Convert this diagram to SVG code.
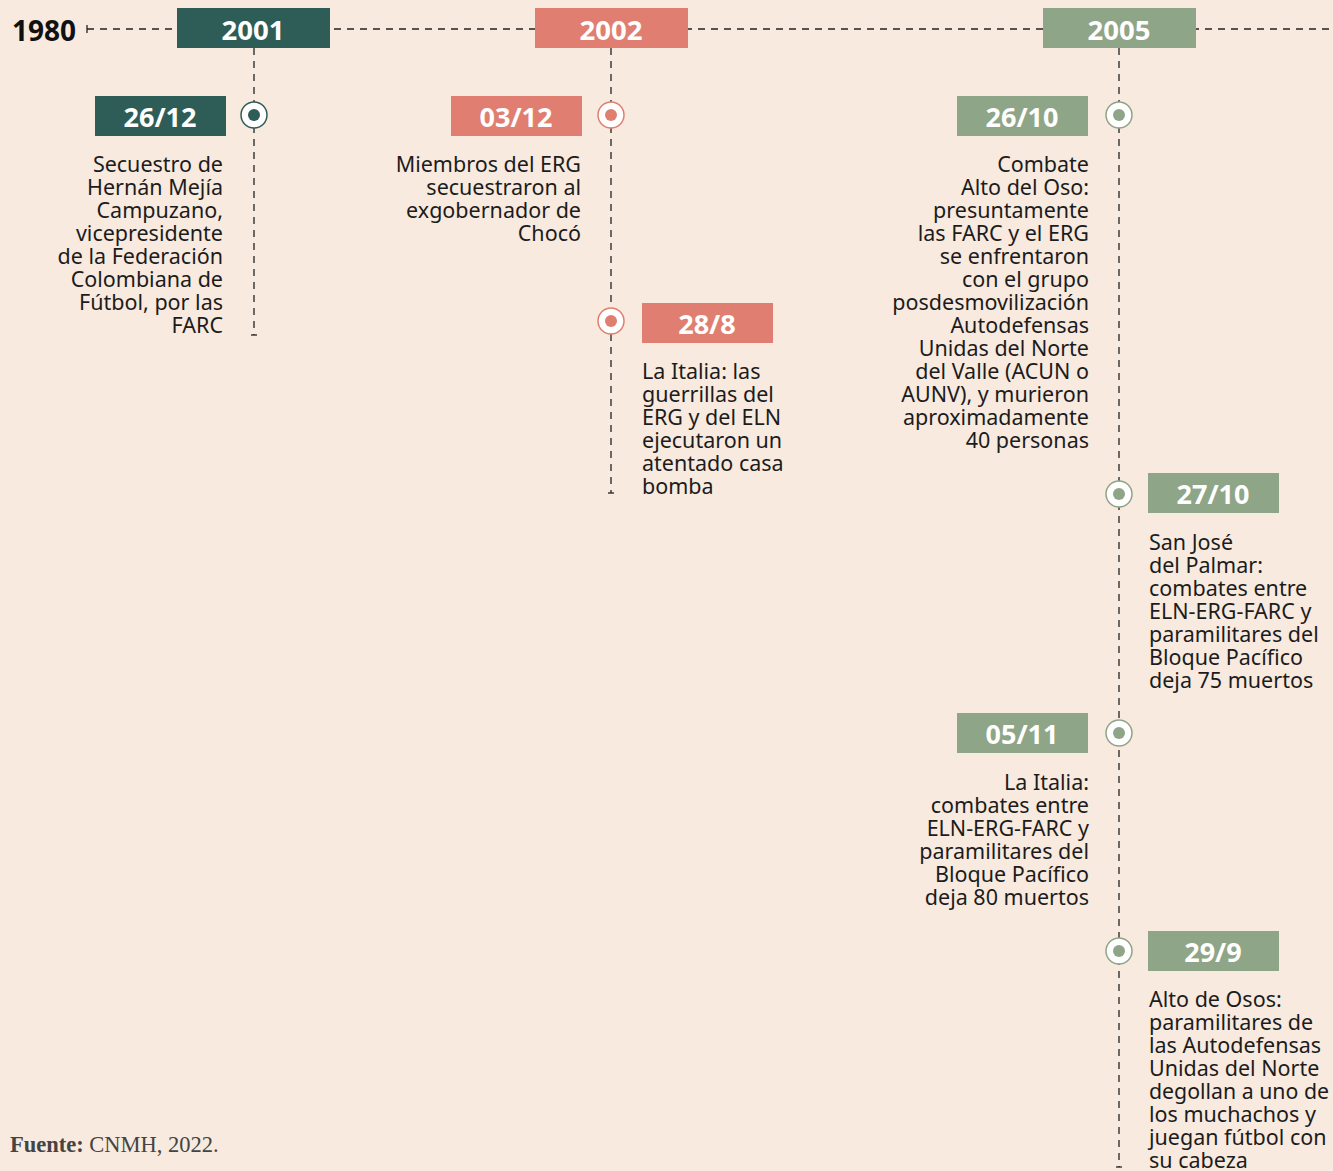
<svg xmlns="http://www.w3.org/2000/svg" width="1333" height="1171" viewBox="0 0 1333 1171">
  <style>
    .line { stroke: #222; stroke-width: 1.3; stroke-dasharray: 7 6; fill: none; }
    .tick { stroke: #222; stroke-width: 1.3; fill: none; }
    .year { font-family: "Noto Sans", "Open Sans", sans-serif; font-weight: 700; font-size: 27.5px; fill: #fff; text-anchor: middle; }
    .date { font-family: "Noto Sans", "Open Sans", sans-serif; font-weight: 700; font-size: 27px; fill: #fff; text-anchor: middle; }
    .body { font-family: "Noto Sans", "Open Sans", sans-serif; font-size: 21.5px; fill: #1c1c1c; }
    .r { text-anchor: end; }
    .teal { fill: #2e5d58; }
    .salmon { fill: #e07f71; }
    .sage { fill: #8fa587; }
    .ring { fill: #fff; stroke-width: 1.5; }
  </style>
  <rect width="1333" height="1171" fill="#f8eadf"/>

  <!-- connectors: main axis and vertical stems -->
  <g id="connectors">
    <line class="line" x1="87" y1="29" x2="1333" y2="29"/>
    <line class="tick" x1="87" y1="25" x2="87" y2="33"/>
    <line class="line" x1="254" y1="48" x2="254" y2="335"/>
    <line class="tick" x1="251" y1="335" x2="257" y2="335"/>
    <line class="line" x1="611" y1="48" x2="611" y2="493"/>
    <line class="tick" x1="608" y1="493" x2="614" y2="493"/>
    <line class="line" x1="1119" y1="48" x2="1119" y2="1167"/>
    <line class="tick" x1="1116" y1="1167" x2="1122" y2="1167"/>
  </g>

  <text x="12" y="41" font-family="Noto Sans, Open Sans, sans-serif" font-weight="700" font-size="28" fill="#111">1980</text>

  <!-- year headers -->
  <g id="year-2001">
    <rect class="teal" x="177" y="8" width="153" height="40"/>
    <text class="year" x="253" y="40">2001</text>
  </g>
  <g id="year-2002">
    <rect class="salmon" x="535" y="8" width="153" height="40"/>
    <text class="year" x="611" y="40">2002</text>
  </g>
  <g id="year-2005">
    <rect class="sage" x="1043" y="8" width="153" height="40"/>
    <text class="year" x="1119" y="40">2005</text>
  </g>

  <!-- 2001 events -->
  <g id="ev-2612">
    <circle class="ring" cx="254" cy="115" r="13" stroke="#2e5d58"/>
    <circle class="teal" cx="254" cy="115" r="6"/>
    <rect class="teal" x="95" y="96" width="131" height="40"/>
    <text class="date" x="160" y="127">26/12</text>
    <text class="body r"><tspan x="223" y="172">Secuestro de</tspan><tspan x="223" y="195">Hernán Mejía</tspan><tspan x="223" y="218">Campuzano,</tspan><tspan x="223" y="241">vicepresidente</tspan><tspan x="223" y="264">de la Federación</tspan><tspan x="223" y="287">Colombiana de</tspan><tspan x="223" y="310">Fútbol, por las</tspan><tspan x="223" y="333">FARC</tspan></text>
  </g>

  <!-- 2002 events -->
  <g id="ev-0312">
    <circle class="ring" cx="611" cy="115" r="13" stroke="#e07f71"/>
    <circle class="salmon" cx="611" cy="115" r="6"/>
    <rect class="salmon" x="451" y="96" width="131" height="40"/>
    <text class="date" x="516" y="127">03/12</text>
    <text class="body r"><tspan x="581" y="172">Miembros del ERG</tspan><tspan x="581" y="195">secuestraron al</tspan><tspan x="581" y="218">exgobernador de</tspan><tspan x="581" y="241">Chocó</tspan></text>
  </g>
  <g id="ev-288">
    <circle class="ring" cx="611" cy="321" r="13" stroke="#e07f71"/>
    <circle class="salmon" cx="611" cy="321" r="6"/>
    <rect class="salmon" x="642" y="303" width="131" height="40"/>
    <text class="date" x="707" y="334">28/8</text>
    <text class="body"><tspan x="642" y="379">La Italia: las</tspan><tspan x="642" y="402">guerrillas del</tspan><tspan x="642" y="425">ERG y del ELN</tspan><tspan x="642" y="448">ejecutaron un</tspan><tspan x="642" y="471">atentado casa</tspan><tspan x="642" y="494">bomba</tspan></text>
  </g>

  <!-- 2005 events -->
  <g id="ev-2610">
    <circle class="ring" cx="1119" cy="115" r="13" stroke="#8fa587"/>
    <circle class="sage" cx="1119" cy="115" r="6"/>
    <rect class="sage" x="957" y="96" width="131" height="40"/>
    <text class="date" x="1022" y="127">26/10</text>
    <text class="body r"><tspan x="1089" y="172">Combate</tspan><tspan x="1089" y="195">Alto del Oso:</tspan><tspan x="1089" y="218">presuntamente</tspan><tspan x="1089" y="241">las FARC y el ERG</tspan><tspan x="1089" y="264">se enfrentaron</tspan><tspan x="1089" y="287">con el grupo</tspan><tspan x="1089" y="310">posdesmovilización</tspan><tspan x="1089" y="333">Autodefensas</tspan><tspan x="1089" y="356">Unidas del Norte</tspan><tspan x="1089" y="379">del Valle (ACUN o</tspan><tspan x="1089" y="402">AUNV), y murieron</tspan><tspan x="1089" y="425">aproximadamente</tspan><tspan x="1089" y="448">40 personas</tspan></text>
  </g>
  <g id="ev-2710">
    <circle class="ring" cx="1119" cy="494" r="13" stroke="#8fa587"/>
    <circle class="sage" cx="1119" cy="494" r="6"/>
    <rect class="sage" x="1148" y="473" width="131" height="40"/>
    <text class="date" x="1213" y="504">27/10</text>
    <text class="body"><tspan x="1149" y="550">San José</tspan><tspan x="1149" y="573">del Palmar:</tspan><tspan x="1149" y="596">combates entre</tspan><tspan x="1149" y="619">ELN-ERG-FARC y</tspan><tspan x="1149" y="642">paramilitares del</tspan><tspan x="1149" y="665">Bloque Pacífico</tspan><tspan x="1149" y="688">deja 75 muertos</tspan></text>
  </g>
  <g id="ev-0511">
    <circle class="ring" cx="1119" cy="733" r="13" stroke="#8fa587"/>
    <circle class="sage" cx="1119" cy="733" r="6"/>
    <rect class="sage" x="957" y="713" width="131" height="40"/>
    <text class="date" x="1022" y="744">05/11</text>
    <text class="body r"><tspan x="1089" y="790">La Italia:</tspan><tspan x="1089" y="813">combates entre</tspan><tspan x="1089" y="836">ELN-ERG-FARC y</tspan><tspan x="1089" y="859">paramilitares del</tspan><tspan x="1089" y="882">Bloque Pacífico</tspan><tspan x="1089" y="905">deja 80 muertos</tspan></text>
  </g>
  <g id="ev-299">
    <circle class="ring" cx="1119" cy="951" r="13" stroke="#8fa587"/>
    <circle class="sage" cx="1119" cy="951" r="6"/>
    <rect class="sage" x="1148" y="931" width="131" height="40"/>
    <text class="date" x="1213" y="962">29/9</text>
    <text class="body"><tspan x="1149" y="1007">Alto de Osos:</tspan><tspan x="1149" y="1030">paramilitares de</tspan><tspan x="1149" y="1053">las Autodefensas</tspan><tspan x="1149" y="1076">Unidas del Norte</tspan><tspan x="1149" y="1099" textLength="180" lengthAdjust="spacingAndGlyphs">degollan a uno de</tspan><tspan x="1149" y="1122">los muchachos y</tspan><tspan x="1149" y="1145">juegan fútbol con</tspan><tspan x="1149" y="1168">su cabeza</tspan></text>
  </g>

  <text x="10" y="1152" font-family="Liberation Serif, serif" font-size="22.5" fill="#444"><tspan font-weight="700">Fuente:</tspan> CNMH, 2022.</text>
</svg>
